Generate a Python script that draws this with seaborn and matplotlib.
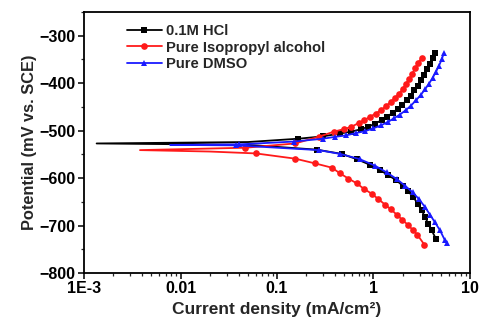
import numpy as np
import pandas as pd
import seaborn as sns
from matplotlib import pyplot as plt
from matplotlib.ticker import LogLocator, MultipleLocator, NullFormatter

# polarization curves, ordered cathodic end -> Ecorr -> anodic end
hcl_i = [4.44, 4.01, 3.70, 3.42, 3.16, 2.87, 2.59, 2.29, 2.01, 1.71, 1.42, 1.17, 0.92, 0.67, 0.468, 0.258, 0.05,
         0.00135,
         0.05, 0.166, 0.30, 0.45, 0.59, 0.74, 0.88, 1.04, 1.22, 1.39, 1.58, 1.78, 1.99, 2.21, 2.43, 2.65,
         2.87, 3.11, 3.36, 3.61, 3.85, 4.10, 4.33]
hcl_e = [-728, -710, -696, -682, -668, -654, -640, -628, -616, -604, -594, -583, -572, -560, -549, -540, -530,
         -527,
         -524, -517, -512, -506, -502, -497, -492, -485, -478, -471, -462, -454, -445, -436, -426, -415,
         -405, -394, -383, -371, -360, -347, -336]

ipa_i = [3.36, 2.84, 2.55, 2.26, 1.99, 1.74, 1.52, 1.32, 1.12, 0.96, 0.80, 0.67, 0.55, 0.45, 0.37, 0.248,
         0.154, 0.0605, 0.02,
         0.0038,
         0.047, 0.154, 0.27, 0.39, 0.49, 0.59, 0.70, 0.80, 0.92, 1.05, 1.20, 1.35, 1.51, 1.67, 1.85, 2.01,
         2.17, 2.35, 2.52, 2.69, 2.91, 3.15]
ipa_e = [-740, -719, -709, -698, -688, -677, -666, -656, -644, -633, -623, -611, -601, -590, -578, -569,
         -559, -548, -544,
         -541,
         -536, -527, -513, -502, -497, -492, -484, -478, -471, -464, -457, -448, -440, -431, -422, -412,
         -401, -391, -380, -369, -357, -347]

dmso_i = [5.80, 5.50, 4.89, 4.33, 3.85, 3.42, 2.98, 2.55, 2.12, 1.74, 1.37, 1.04, 0.72, 0.45, 0.27, 0.038,
          0.0078,
          0.04, 0.15, 0.30, 0.40, 0.52, 0.66, 0.82, 1.00, 1.19, 1.40, 1.63, 1.88, 2.16, 2.45, 2.76, 3.08,
          3.42, 3.76, 4.10, 4.44, 4.78, 5.09, 5.38]
dmso_e = [-736, -731, -710, -693, -677, -661, -645, -630, -616, -602, -588, -574, -560, -549, -541, -531,
          -530,
          -529, -523, -517, -513, -510, -505, -501, -495, -489, -482, -474, -466, -457, -447, -436, -425,
          -413, -401, -389, -376, -363, -350, -336]

series = [
    ("0.1M HCl", hcl_i, hcl_e, "black", "s"),
    ("Pure Isopropyl alcohol", ipa_i, ipa_e, "#ff1a1a", "o"),
    ("Pure DMSO", dmso_i, dmso_e, "#1a1aff", "^"),
]

sns.set_theme(style="ticks")
plt.rcParams['font.family'] = ['Liberation Sans', 'DejaVu Sans']
plt.rcParams['font.weight'] = 'bold'

fig = plt.figure(figsize=(4.83, 3.25), dpi=100)
ax = fig.add_axes([0.174, 0.160, 0.799, 0.803])

for name, cur, pot, col, mk in series:
    df = pd.DataFrame({"i": cur, "E": pot})
    # no markers on the thin part around Ecorr
    lim = 0.1 if name == "0.1M HCl" else 0.03
    marks = [k for k in range(len(cur)) if cur[k] > lim]
    sns.lineplot(data=df, x="i", y="E", sort=False, estimator=None, ax=ax,
                 color=col, marker=mk, markersize=4.8, markeredgewidth=0,
                 markevery=marks, linewidth=1.3, label=name)

ax.set_xscale("log")
ax.set_xlim(1e-3, 10)
ax.set_ylim(-800, -250)
ax.set_xticks([1e-3, 1e-2, 1e-1, 1, 10])
ax.set_xticklabels(["1E-3", "0.01", "0.1", "1", "10"])
ax.xaxis.set_minor_locator(LogLocator(base=10, subs=np.arange(2, 10)))
ax.xaxis.set_minor_formatter(NullFormatter())
ax.set_yticks([-800, -700, -600, -500, -400, -300])
ax.yaxis.set_minor_locator(MultipleLocator(50))

ax.tick_params(which="major", direction="out", length=4, width=1.1, labelsize=11.5,
               colors="black", pad=2)
ax.tick_params(which="minor", direction="out", length=2, width=0.9)
for s in ax.spines.values():
    s.set_linewidth(1.3)
    s.set_color("black")

ax.set_xlabel("Current density (mA/cm²)", fontsize=12.5, fontweight="bold", labelpad=4)
ax.set_ylabel("Potential (mV vs. SCE)", fontsize=11.8, fontweight="bold", labelpad=2)

leg = ax.legend(loc="upper left", bbox_to_anchor=(0.095, 0.975), frameon=False,
                fontsize=10.6, handlelength=2.4, handletextpad=0.25, labelspacing=0.15,
                numpoints=1, borderaxespad=0)

fig.savefig("out.png", dpi=100)
